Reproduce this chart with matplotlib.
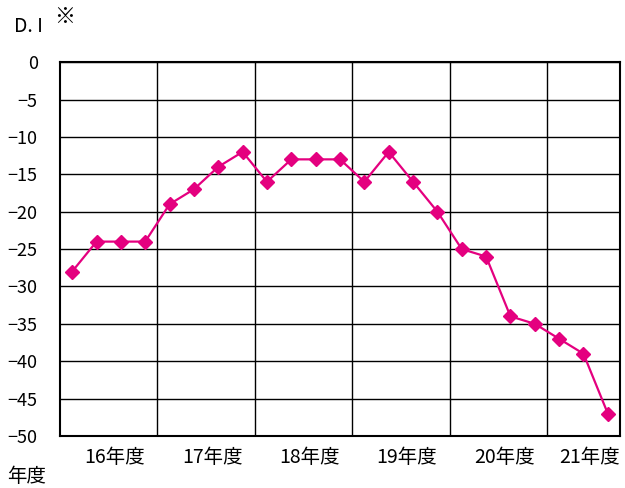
import matplotlib
matplotlib.use('Agg')
import matplotlib.pyplot as plt

plt.rcParams['font.family'] = ['Noto Sans CJK JP', 'DejaVu Sans']

# quarterly D.I values, FY16 Q1 .. FY21 Q3
di_values = [-28, -24, -24, -24,
             -19, -17, -14, -12,
             -16, -13, -13, -13,
             -16, -12, -16, -20,
             -25, -26, -34, -35,
             -37, -39, -47]
year_labels = ['16年度', '17年度', '18年度', '19年度', '20年度', '21年度']
quarters_per_year = 4
y_ticks = [0, -5, -10, -15, -20, -25, -30, -35, -40, -45, -50]

fig = plt.figure(figsize=(6.25, 4.88), dpi=100)
ax = fig.add_axes([0.096, 0.1066, 0.896, 0.766])

x = list(range(len(di_values)))
ax.plot(x, di_values, color='#E4007F', linewidth=1.6, marker='D',
        markersize=7, zorder=3)

ax.set_xlim(-0.5, len(di_values) - 0.5)
ax.set_ylim(-50, 0)
ax.set_yticks(y_ticks)
ax.set_yticklabels([str(v).replace('-', '\u2212') for v in y_ticks], fontsize=13)
ax.yaxis.grid(True, color='black', linewidth=1)

# year boundaries
for b in range(quarters_per_year, len(di_values), quarters_per_year):
    ax.axvline(b - 0.5, color='black', linewidth=1, zorder=1)

# year labels centred under each year
centers = []
for i in range(len(year_labels)):
    start = i * quarters_per_year - 0.5
    end = min((i + 1) * quarters_per_year, len(di_values)) - 0.5
    centers.append((start + end) / 2 + 0.25)
ax.set_xticks(centers)
ax.set_xticklabels(year_labels, fontsize=14)
ax.tick_params(length=0, pad=8)
ax.tick_params(axis='y', pad=16)

for s in ax.spines.values():
    s.set_linewidth(1.5)
    s.set_color('black')

fig.text(0.022, 0.935, 'D. I', fontsize=14, va='baseline')
fig.text(0.086, 0.952, '※', fontsize=15, va='baseline')
fig.text(0.012, 0.002, '年度', fontsize=14, va='bottom')

fig.savefig('out.png', dpi=100)
